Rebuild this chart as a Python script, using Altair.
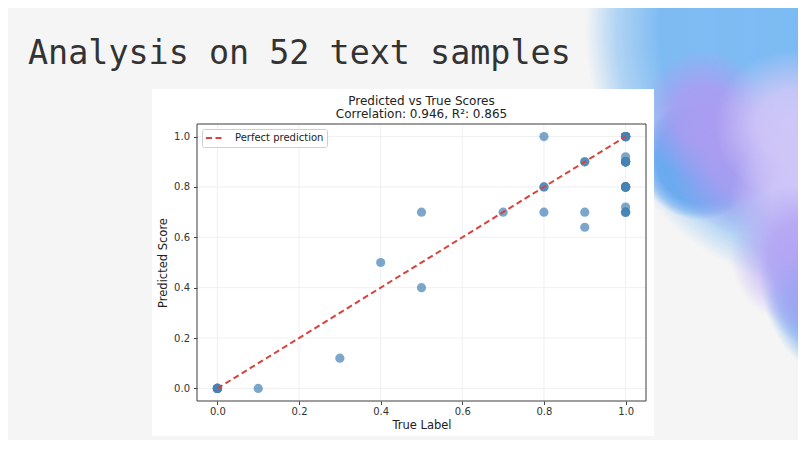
import altair as alt
import pandas as pd

# ---------------- data ----------------
slide_title = "Analysis on 52 text samples"
plot_title_1 = "Predicted vs True Scores"
plot_title_2 = "Correlation: 0.946, R²: 0.865"
x_title = "True Label"
y_title = "Predicted Score"
legend_label = "Perfect prediction"
tick_values = [0.0, 0.2, 0.4, 0.6, 0.8, 1.0]

true_label = [0.0, 0.0, 0.0, 0.0, 0.0, 0.0, 0.0,
              0.1, 0.3, 0.4, 0.5, 0.5, 0.7,
              0.8, 0.8, 0.8, 0.8,
              0.9, 0.9, 0.9, 0.9,
              1.0, 1.0, 1.0, 1.0, 1.0, 1.0, 1.0, 1.0, 1.0, 1.0,
              1.0,
              1.0, 1.0, 1.0, 1.0, 1.0, 1.0, 1.0, 1.0,
              1.0, 1.0, 1.0, 1.0, 1.0, 1.0, 1.0, 1.0,
              1.0,
              1.0, 1.0, 1.0]
predicted = [0.0, 0.0, 0.0, 0.0, 0.0, 0.0, 0.0,
             0.0, 0.12, 0.5, 0.7, 0.4, 0.7,
             1.0, 0.8, 0.8, 0.7,
             0.9, 0.9, 0.7, 0.64,
             1.0, 1.0, 1.0, 1.0, 1.0, 1.0, 1.0, 1.0, 1.0, 1.0,
             0.92,
             0.9, 0.9, 0.9, 0.9, 0.9, 0.9, 0.9, 0.9,
             0.8, 0.8, 0.8, 0.8, 0.8, 0.8, 0.8, 0.8,
             0.72,
             0.7, 0.7, 0.7]

line_x = [0.0, 1.0]
line_y = [0.0, 1.0]

points = pd.DataFrame({"true_label": true_label, "predicted": predicted})
diag = pd.DataFrame({"x": line_x, "y": line_y, "series": [legend_label] * len(line_x)})
grid = pd.DataFrame({"v": tick_values})
one = pd.DataFrame({"k": [0]})
titles = pd.DataFrame({"slide": [slide_title], "t1": [plot_title_1], "t2": [plot_title_2]})

# ---------------- layout ----------------
W, H = 449, 277            # axes frame
PAD_L, PAD_T = 189, 116    # frame origin on page = (197, 124)
TOTAL_W, TOTAL_H = 790, 432
OX, OY = PAD_L + 8, PAD_T + 8


def px(X):
    return X - OX


def py(Y):
    return Y - OY


FONT = "DejaVu Sans"
xs = alt.Scale(domain=[-0.05, 1.05], nice=False, zero=False)
ys = alt.Scale(domain=[-0.05, 1.05], nice=False, zero=False)


def radial(rgb, stops):
    r, g, b = rgb
    return {
        "gradient": "radial",
        "x1": 0.5, "y1": 0.5, "r1": 0,
        "x2": 0.5, "y2": 0.5, "r2": 0.5,
        "stops": [{"offset": o, "color": f"rgba({r},{g},{b},{a})"} for o, a in stops],
    }


SHARP = [(0, 0.97), (0.72, 0.95), (0.88, 0.55), (1, 0)]
SOFT = [(0, 0.95), (0.45, 0.85), (1, 0)]

BLUE = (120, 184, 243)
BLUE2 = (104, 168, 240)
PURPLE = (172, 156, 241)
LAV = (210, 200, 248)
PURPLE2 = (182, 164, 244)
BLUEPUR = (160, 166, 242)

# (centre x, centre y, outer radius, colour, profile) in page pixels
blobs_spec = [
    (850, 30, 265, BLUE, SHARP),
    (880, 275, 120, BLUE2, SHARP),
    (700, 160, 60, BLUE2, SHARP),
    (705, 115, 65, PURPLE, SOFT),
    (745, 160, 75, PURPLE, SOFT),
    (790, 125, 75, LAV, SOFT),
    (805, 200, 75, LAV, SOFT),
    (800, 255, 70, PURPLE2, SOFT),
    (812, 300, 45, BLUEPUR, SOFT),
]

layers = []
for cx, cy, r, col, prof in blobs_spec:
    layers.append(
        alt.Chart(one).mark_rect(fill=radial(col, prof), strokeWidth=0).encode(
            x=alt.value(px(cx - r)), x2=alt.value(px(cx + r)),
            y=alt.value(py(cy - r)), y2=alt.value(py(cy + r)),
        )
    )

# white picture box
layers.append(
    alt.Chart(one).mark_rect(fill="white", strokeWidth=0).encode(
        x=alt.value(px(152)), x2=alt.value(px(654)),
        y=alt.value(py(89)), y2=alt.value(py(436)),
    )
)

# slide title
layers.append(
    alt.Chart(titles).mark_text(
        font="DejaVu Sans Mono", fontSize=33.4, color="#333333",
        align="left", baseline="alphabetic",
    ).encode(x=alt.value(px(28)), y=alt.value(py(63.5)), text="slide:N")
)

# plot titles
layers.append(
    alt.Chart(titles).mark_text(
        font=FONT, fontSize=12, color="#222222", align="center", baseline="alphabetic",
    ).encode(x=alt.value(W / 2), y=alt.value(py(104.7)), text="t1:N")
)
layers.append(
    alt.Chart(titles).mark_text(
        font=FONT, fontSize=12, color="#222222", align="center", baseline="alphabetic",
    ).encode(x=alt.value(W / 2), y=alt.value(py(118)), text="t2:N")
)

axis_common = dict(
    values=tick_values, format=".1f", grid=False, domain=False,
    labelFont=FONT, labelFontSize=10, labelColor="#333333",
    tickColor="#444444", tickSize=3.5, tickWidth=1,
    titleFont=FONT, titleFontSize=11.5, titleFontWeight="normal", titleColor="#222222",
    zindex=1,
)
xaxis = alt.Axis(title=x_title, labelPadding=1.5, titlePadding=3, **axis_common)
yaxis = alt.Axis(title=y_title, labelPadding=4, titlePadding=5, **axis_common)

# grid
layers.append(
    alt.Chart(grid).mark_rule(color="#ececec", strokeWidth=0.8).encode(
        x=alt.X("v:Q", scale=xs, axis=xaxis)
    )
)
layers.append(
    alt.Chart(grid).mark_rule(color="#ececec", strokeWidth=0.8).encode(
        y=alt.Y("v:Q", scale=ys, axis=yaxis)
    )
)

# scatter
layers.append(
    alt.Chart(points).mark_circle(size=85, color="#4682b4", opacity=0.7).encode(
        x=alt.X("true_label:Q", scale=xs, axis=xaxis),
        y=alt.Y("predicted:Q", scale=ys, axis=yaxis),
    )
)

# perfect prediction line
leg = alt.Legend(
    title=None, orient="top-left", offset=5,
    labelFont=FONT, labelFontSize=10, labelColor="#222222",
    symbolType="stroke", symbolSize=324, symbolStrokeWidth=2,
    labelOffset=10, padding=3, clipHeight=12,
    fillColor="white", strokeColor="#cfcfcf", cornerRadius=2,
)
layers.append(
    alt.Chart(diag).mark_line(strokeWidth=2).encode(
        x=alt.X("x:Q", scale=xs, axis=xaxis),
        y=alt.Y("y:Q", scale=ys, axis=yaxis),
        color=alt.Color("series:N", scale=alt.Scale(domain=[legend_label], range=["#d8433e"]), legend=leg),
        strokeDash=alt.StrokeDash("series:N", scale=alt.Scale(domain=[legend_label], range=[[6, 3.5]]), legend=leg),
    )
)

# axes frame
layers.append(
    alt.Chart(one).mark_rect(fillOpacity=0, stroke="#3c3c3c", strokeWidth=1).encode(
        x=alt.value(0), x2=alt.value(W), y=alt.value(0), y2=alt.value(H),
    )
)

chart = alt.layer(*layers).properties(
    width=W,
    height=H,
    background="#f5f5f5",
    padding={"left": PAD_L, "top": PAD_T, "right": TOTAL_W - PAD_L - W, "bottom": TOTAL_H - PAD_T - H},
    autosize=alt.AutoSizeParams(type="none"),
).configure(font=FONT).configure_view(strokeWidth=0)

chart.save("out.html", embed_options={"renderer": "svg", "actions": False})
